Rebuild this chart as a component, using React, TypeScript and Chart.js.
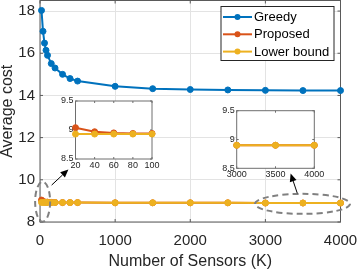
import React, { useEffect, useRef } from "react";
import { Chart, registerables } from "chart.js";
Chart.register(...registerables);
Chart.defaults.font.family = "'Liberation Sans', Arial, Helvetica, sans-serif";

// ---- data ----
const sensors = [20, 40, 60, 80, 100, 150, 200, 300, 400, 500, 1000, 1500, 2000, 2500, 3000, 3500, 4000];
const greedy = [18.03, 17.04, 16.48, 16.14, 15.9, 15.51, 15.3, 15.0, 14.8, 14.68, 14.43, 14.32, 14.28, 14.26, 14.24, 14.23, 14.23];
const proposed = [9.04, 8.97, 8.95, 8.94, 8.94, 8.93, 8.93, 8.92, 8.92, 8.92, 8.91, 8.91, 8.91, 8.91, 8.9, 8.9, 8.9];
const lowerBound = [8.93, 8.93, 8.93, 8.93, 8.93, 8.92, 8.92, 8.92, 8.92, 8.92, 8.91, 8.91, 8.91, 8.91, 8.9, 8.9, 8.9];
const seriesLabels = ["Greedy", "Proposed", "Lower bound"];
const seriesColors = ["#0072BD", "#D95319", "#EDB120"];
const seriesValues = [greedy, proposed, lowerBound];

const xTicks = [0, 1000, 2000, 3000, 4000];
const yTicks = [8, 10, 12, 14, 16, 18];
const inset1XTicks = [20, 40, 60, 80, 100];
const inset2XTicks = [3000, 3500, 4000];
const insetYTicks = [8.5, 9, 9.5];

const TXT = "#262626";

function makeDatasets(xmin: number, xmax: number, ymin: number, ymax: number, radius: number, bw: number) {
  return seriesValues.map((vals, i) => ({
    label: seriesLabels[i],
    order: seriesValues.length - 1 - i,
    data: sensors
      .map((k, j) => ({ x: k, y: vals[j] }))
      .filter((p) => p.x >= xmin && p.x <= xmax && p.y >= ymin && p.y <= ymax),
    borderColor: seriesColors[i],
    backgroundColor: seriesColors[i],
    borderWidth: bw,
    pointRadius: radius,
    pointBorderWidth: 1,
    pointBorderColor: seriesColors[i],
    pointBackgroundColor: seriesColors[i],
    tension: 0,
    clip: false as any,
  }));
}

const boxPlugin = {
  id: "boxAxes",
  beforeDraw(chart: any, _a: any, opts: any) {
    if (!opts || !opts.fill) return;
    const { ctx, chartArea: c } = chart;
    ctx.save();
    ctx.fillStyle = opts.fill;
    ctx.fillRect(c.left, c.top, c.right - c.left, c.bottom - c.top);
    ctx.restore();
  },
  beforeDatasetsDraw(chart: any, _a: any, opts: any) {
    if (!opts) return;
    const { ctx, chartArea: c, scales } = chart;
    ctx.save();
    ctx.strokeStyle = opts.color || "#666";
    ctx.lineWidth = 1;
    ctx.strokeRect(c.left, c.top, c.right - c.left, c.bottom - c.top);
    const tl = opts.tick || 3;
    ctx.beginPath();
    scales.x.ticks.forEach((t: any) => {
      const px = scales.x.getPixelForValue(t.value);
      ctx.moveTo(px, c.bottom);
      ctx.lineTo(px, c.bottom - tl);
      ctx.moveTo(px, c.top);
      ctx.lineTo(px, c.top + tl);
    });
    scales.y.ticks.forEach((t: any) => {
      const py = scales.y.getPixelForValue(t.value);
      ctx.moveTo(c.left, py);
      ctx.lineTo(c.left + tl, py);
      ctx.moveTo(c.right, py);
      ctx.lineTo(c.right - tl, py);
    });
    ctx.stroke();
    ctx.restore();
  },
};

function drawArrow(ctx: CanvasRenderingContext2D, x1: number, y1: number, x2: number, y2: number) {
  const ang = Math.atan2(y2 - y1, x2 - x1);
  const hl = 8, hw = 3.5;
  ctx.save();
  ctx.strokeStyle = "#000";
  ctx.fillStyle = "#000";
  ctx.lineWidth = 1;
  ctx.beginPath();
  ctx.moveTo(x1, y1);
  ctx.lineTo(x2 - hl * Math.cos(ang), y2 - hl * Math.sin(ang));
  ctx.stroke();
  ctx.beginPath();
  ctx.moveTo(x2, y2);
  ctx.lineTo(x2 - hl * Math.cos(ang) + hw * Math.sin(ang), y2 - hl * Math.sin(ang) - hw * Math.cos(ang));
  ctx.lineTo(x2 - hl * Math.cos(ang) - hw * Math.sin(ang), y2 - hl * Math.sin(ang) + hw * Math.cos(ang));
  ctx.closePath();
  ctx.fill();
  ctx.restore();
}

const annotationPlugin = {
  id: "annot",
  afterDraw(chart: any) {
    const { ctx, scales, chartArea: c } = chart;
    const X = (v: number) => scales.x.getPixelForValue(v);
    const Y = (v: number) => scales.y.getPixelForValue(v);
    ctx.save();
    ctx.strokeStyle = "#808080";
    ctx.lineWidth = 2;
    ctx.setLineDash([6, 4]);
    ctx.beginPath();
    ctx.ellipse(X(35), Y(8.96), 7.5, 20, 0, 0, Math.PI * 2);
    ctx.stroke();
    ctx.beginPath();
    ctx.ellipse(X(3495), Y(8.86), 47.5, 10, 0, 0, Math.PI * 2);
    ctx.stroke();
    ctx.restore();
    drawArrow(ctx, X(155), Y(9.75), X(378), Y(10.49));
    drawArrow(ctx, X(3425), Y(9.36), X(3336), Y(10.3));
    const bx = c.right - 119.5, by = c.top + 6, bw = 113, bh = 54;
    ctx.save();
    ctx.fillStyle = "#fff";
    ctx.fillRect(bx, by, bw, bh);
    ctx.strokeStyle = "#262626";
    ctx.lineWidth = 1;
    ctx.strokeRect(bx, by, bw, bh);
    ctx.font = "13px 'Liberation Sans', Arial, sans-serif";
    ctx.textBaseline = "middle";
    ctx.textAlign = "left";
    chart.data.datasets.forEach((ds: any, i: number) => {
      const ry = by + 10.5 + i * 17.3;
      ctx.strokeStyle = ds.borderColor;
      ctx.lineWidth = 2;
      ctx.beginPath();
      ctx.moveTo(bx + 2, ry);
      ctx.lineTo(bx + 31, ry);
      ctx.stroke();
      ctx.fillStyle = ds.backgroundColor;
      ctx.beginPath();
      ctx.arc(bx + 16.5, ry, 3, 0, Math.PI * 2);
      ctx.fill();
      ctx.fillStyle = "#000";
      ctx.fillText(ds.label, bx + 33, ry + 0.5);
    });
    ctx.restore();
  },
};

const fmt = (v: any) => String(v);

function mainConfig(): any {
  return {
    type: "line",
    data: { datasets: makeDatasets(0, 4000, 8, 18.5, 3, 2) },
    plugins: [boxPlugin, annotationPlugin],
    options: {
      animation: false,
      responsive: false,
      devicePixelRatio: 1,
      layout: { autoPadding: false, padding: { left: 0, top: 0.5, right: 16.5, bottom: 0 } },
      plugins: {
        legend: { display: false },
        tooltip: { enabled: false },
        boxAxes: { color: "#5a5a5a", tick: 3 },
      },
      scales: {
        x: {
          type: "linear",
          min: 0,
          max: 4000,
          afterBuildTicks: (s: any) => { s.ticks = xTicks.map((v) => ({ value: v })); },
          afterFit: (s: any) => { s.height = 48; s.paddingLeft = 0; s.paddingRight = 0; },
          grid: { color: "#e3e3e3", drawTicks: false },
          border: { display: false },
          ticks: { padding: 10, color: TXT, font: { size: 15 }, maxRotation: 0, autoSkip: false, callback: fmt },
          title: { display: true, text: "Number of Sensors (K)", color: TXT, font: { size: 16, lineHeight: 1 }, padding: 0 },
        },
        y: {
          type: "linear",
          min: 8,
          max: 18.5,
          afterBuildTicks: (s: any) => { s.ticks = yTicks.map((v) => ({ value: v })); },
          afterFit: (s: any) => { s.width = 40; s.paddingTop = 0; s.paddingBottom = 0; },
          grid: { color: "#e3e3e3", drawTicks: false },
          border: { display: false },
          ticks: { padding: 5, color: TXT, font: { size: 15 }, autoSkip: false, callback: fmt },
          title: { display: true, text: "Average cost", color: TXT, font: { size: 16, lineHeight: 1 }, padding: 0 },
        },
      },
    },
  };
}

function insetConfig(xmin: number, xmax: number, ticksX: number[], yw: number, xh: number, pad: any): any {
  return {
    type: "line",
    data: { datasets: makeDatasets(xmin, xmax, 8.5, 9.5, 3, 2) },
    plugins: [boxPlugin],
    options: {
      animation: false,
      responsive: false,
      devicePixelRatio: 1,
      layout: { autoPadding: false, padding: pad },
      plugins: {
        legend: { display: false },
        tooltip: { enabled: false },
        boxAxes: { color: "#6e6e6e", tick: 2, fill: "#ffffff" },
      },
      scales: {
        x: {
          type: "linear",
          min: xmin,
          max: xmax,
          afterBuildTicks: (s: any) => { s.ticks = ticksX.map((v) => ({ value: v })); },
          afterFit: (s: any) => { s.height = xh; s.paddingLeft = 0; s.paddingRight = 0; },
          grid: { display: false, drawTicks: false },
          border: { display: false },
          ticks: { padding: 1, color: TXT, font: { size: 9 }, maxRotation: 0, autoSkip: false, callback: fmt },
        },
        y: {
          type: "linear",
          min: 8.5,
          max: 9.5,
          afterBuildTicks: (s: any) => { s.ticks = insetYTicks.map((v) => ({ value: v })); },
          afterFit: (s: any) => { s.width = yw; s.paddingTop = 0; s.paddingBottom = 0; },
          grid: { display: false, drawTicks: false },
          border: { display: false },
          ticks: { padding: 2, color: TXT, font: { size: 9 }, autoSkip: false, callback: fmt },
        },
      },
    },
  };
}

function ChartCanvas({ config, left, top, width, height }: any) {
  const ref = useRef<HTMLCanvasElement | null>(null);
  useEffect(() => {
    if (!ref.current) return;
    const chart = new Chart(ref.current, config());
    return () => chart.destroy();
  }, []);
  return (
    <canvas
      ref={ref}
      width={width}
      height={height}
      style={{ position: "absolute", left, top, width, height }}
    />
  );
}

export default function App() {
  return (
    <div style={{ position: "absolute", left: 0, top: 0, width: 357, height: 270, background: "#fff" }}>
      <ChartCanvas config={mainConfig} left={0} top={0} width={357} height={270} />
      <ChartCanvas
        config={() => insetConfig(20, 100, inset1XTicks, 20.5, 11, { left: 0, top: 6, right: 8, bottom: 0 })}
        left={55}
        top={95}
        width={105}
        height={75}
      />
      <ChartCanvas
        config={() => insetConfig(3000, 4000, inset2XTicks, 21.7, 11.7, { left: 0, top: 6.7, right: 10.7, bottom: 0 })}
        left={215}
        top={104}
        width={110}
        height={76}
      />
    </div>
  );
}
